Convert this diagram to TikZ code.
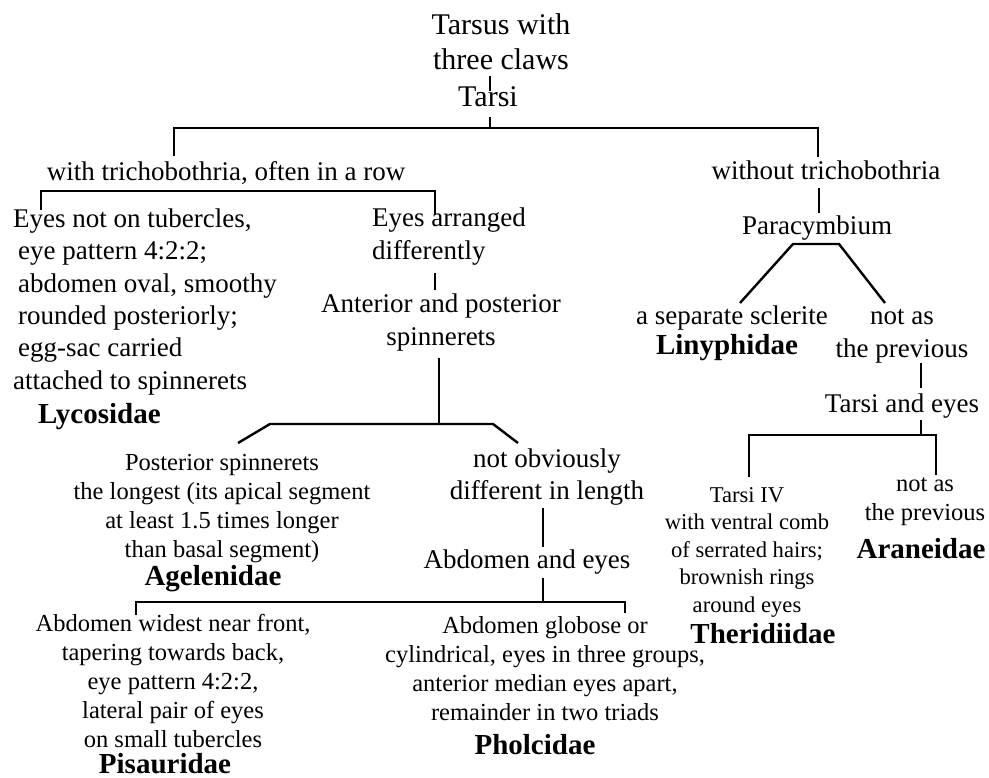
\documentclass[tikz,border=0pt]{standalone}
\usepackage{fontspec}
\setmainfont{Liberation Serif}
\tikzset{
every node/.style={inner sep=0pt, anchor=base},
ttl/.style={font=\fontsize{30}{35}\selectfont, align=center},
lab/.style={font=\fontsize{27}{32.5}\selectfont, align=center},
sml/.style={font=\fontsize{24.5}{29}\selectfont, align=center},
tny/.style={font=\fontsize{22.6}{27.5}\selectfont, align=center},
fam/.style={font=\fontsize{29}{32}\selectfont\bfseries},
link/.style={line width=2.4pt},
}

\begin{document}
\begin{tikzpicture}[x=1pt, y=-1pt]
    \useasboundingbox (0,0) rectangle (989,778);

    %title (node base = baseline of last line)
    \node[ttl] (claws) at (501,70) {Tarsus with\\three claws};
    \node[ttl] (tarsi) at (488,107) {Tarsi};

    %left branch
    \node[lab] (withtr) at (226,181) {with trichobothria, often in a row};
    \node[lab, align=left, anchor=base west] (notub) at (13,389.5)
        {Eyes not on tubercles,\\\hspace*{5pt}eye pattern 4:2:2;\\\hspace*{5pt}abdomen oval, smoothy\\\hspace*{5pt}rounded posteriorly;\\\hspace*{5pt}egg-sac carried\\attached to spinnerets};
    \node[fam, anchor=base west] (lyco) at (38,424) {Lycosidae};
    \node[lab, align=left, anchor=base west] (arr) at (372,259.5) {Eyes arranged\\differently};
    \node[lab] (antpost) at (441,345.5) {Anterior and posterior\\spinnerets};

    %middle
    \node[sml] (postsp) at (222,557) {Posterior spinnerets\\the longest (its apical segment\\at least 1.5 times longer\\than basal segment)};
    \node[fam] (agel) at (213,585) {Agelenidae};
    \node[lab] (notobv) at (547,499.5) {not obviously\\different in length};
    \node[lab] (abdeye) at (527,568) {Abdomen and eyes};

    %bottom
    \node[sml] (widest) at (173,747) {Abdomen widest near front,\\tapering towards back,\\eye pattern 4:2:2,\\lateral pair of eyes\\on small tubercles};
    \node[fam] (pisa) at (165,773) {Pisauridae};
    \node[sml] (globose) at (545,720) {Abdomen globose or\\cylindrical, eyes in three groups,\\anterior median eyes apart,\\remainder in two triads};
    \node[fam] (pholc) at (535,754) {Pholcidae};

    %right branch
    \node[lab] (without) at (826,180) {without trichobothria};
    \node[lab] (paracy) at (817,235) {Paracymbium};
    \node[lab] (sclerite) at (732,325) {a separate sclerite};
    \node[fam] (liny) at (727,355) {Linyphidae};
    \node[lab] (notprev) at (902,357.5) {not as\\the previous};
    \node[lab] (tareye) at (902,412) {Tarsi and eyes};
    \node[tny] (tarsiv) at (747,612) {Tarsi IV\\with ventral comb\\of serrated hairs;\\brownish rings\\around eyes};
    \node[fam] (theri) at (763,643) {Theridiidae};
    \node[sml] (notprevb) at (925,520) {not as\\the previous};
    \node[fam] (aranei) at (921,558) {Araneidae};

    %line ends
    \coordinate (t1) at (490,76);   \coordinate (t2) at (490,91);
    \coordinate (t3) at (490,117);  \coordinate (t4) at (490,128);
    \coordinate (w1) at (174,156);  \coordinate (w2) at (818,157);
    \coordinate (e1) at (41,210);   \coordinate (e2) at (435,191);  \coordinate (e3) at (435,215);
    \coordinate (d1) at (435,273);  \coordinate (d2) at (435,290);
    \coordinate (s1) at (439,358);  \coordinate (s2) at (439,424);
    \coordinate (s3) at (238,443);  \coordinate (s4) at (270,424);
    \coordinate (s5) at (493,424);  \coordinate (s6) at (518,443);
    \coordinate (n1) at (543,508);  \coordinate (n2) at (543,547);
    \coordinate (a1) at (543,578);  \coordinate (a2) at (543,602);
    \coordinate (a3) at (136,615);  \coordinate (a4) at (625,602);  \coordinate (a5) at (625,613);
    \coordinate (p1) at (819,188);  \coordinate (p2) at (819,213);
    \coordinate (p3) at (740,303);  \coordinate (p4) at (793,244);
    \coordinate (p5) at (839,244);  \coordinate (p6) at (885,303);
    \coordinate (r1) at (921,363);  \coordinate (r2) at (921,388);
    \coordinate (r3) at (921,420);  \coordinate (r4) at (921,435);
    \coordinate (r5) at (749,477);  \coordinate (r6) at (936,435);  \coordinate (r7) at (936,475);

    %top lines
    \draw[link] (t1)--(t2);
    \draw[link] (t3)--(t4);
    \draw[link] (w1) |- (w2 |- t4) -- (w2);

    %left lines
    \draw[link] (e1) |- (e2) -- (e3);
    \draw[link] (d1)--(d2);
    \draw[link] (s1)--(s2);
    \draw[link] (s3)--(s4)--(s5)--(s6);
    \draw[link] (n1)--(n2);
    \draw[link] (a1)--(a2);
    \draw[link] (a3) |- (a4) -- (a5);

    %right lines
    \draw[link] (p1)--(p2);
    \draw[link] (p3)--(p4)--(p5)--(p6);
    \draw[link] (r1)--(r2);
    \draw[link] (r3)--(r4);
    \draw[link] (r5) |- (r6) -- (r7);

\end{tikzpicture}
\end{document}
